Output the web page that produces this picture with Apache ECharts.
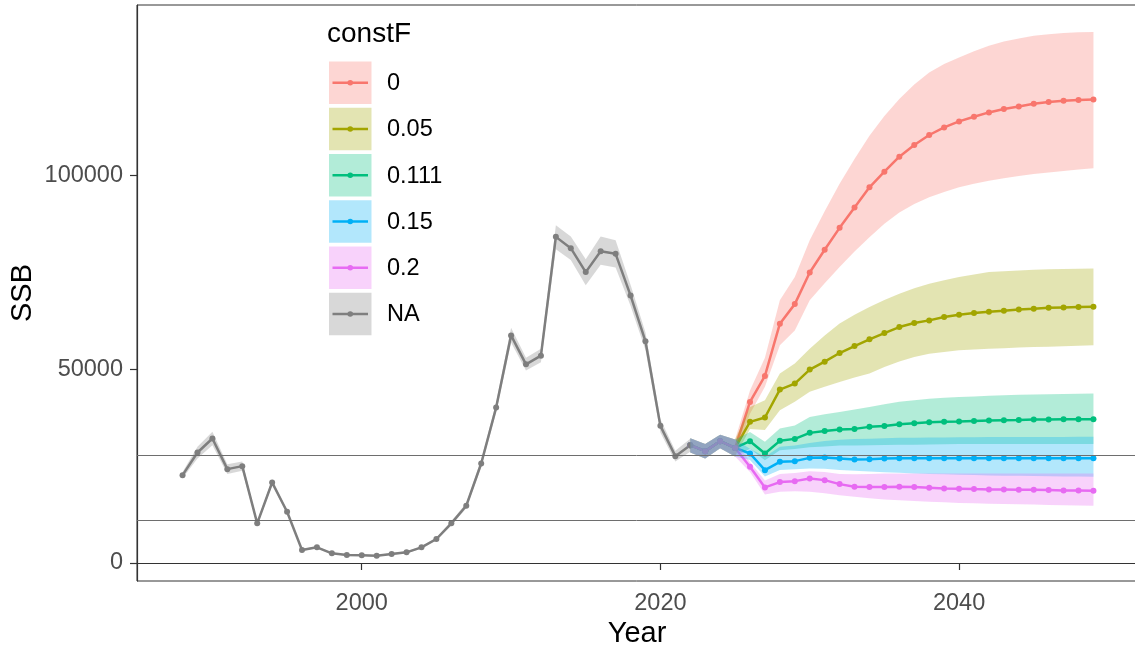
<!DOCTYPE html>
<html>
<head>
<meta charset="utf-8">
<script src="https://cdn.jsdelivr.net/npm/echarts@6/dist/echarts.min.js"></script>
<style>
  html, body { margin: 0; padding: 0; background: #ffffff; }
  #chart { width: 1135px; height: 651px; }
</style>
</head>
<body>
<div id="chart"></div>
<script>
// ---- Historical assessment (constF = NA) ----
const histYears = [1988, 1989, 1990, 1991, 1992, 1993, 1994, 1995, 1996, 1997, 1998, 1999, 2000, 2001, 2002, 2003, 2004, 2005, 2006, 2007, 2008, 2009, 2010, 2011, 2012, 2013, 2014, 2015, 2016, 2017, 2018, 2019, 2020, 2021, 2022];
const histSSB = [22680, 28530, 32140, 24230, 25000, 10230, 20790, 13230, 3350, 4040, 2490, 2060, 1980, 1890, 2320, 2750, 4040, 6190, 10230, 14780, 25690, 40120, 58760, 51290, 53520, 84190, 81270, 75090, 80500, 79810, 69070, 57220, 35400, 27580, 30410];
const histLow = [21900, 27000, 30400, 23000, 23800, 9700, 20000, 12700, 3100, 3800, 2300, 1900, 1800, 1700, 2100, 2500, 3750, 5800, 9700, 14100, 24700, 38900, 56900, 49700, 51800, 81000, 78200, 71700, 77000, 76300, 66400, 55000, 33700, 26200, 28700];
const histHigh = [23500, 30000, 33900, 25500, 26200, 10800, 21600, 13800, 3600, 4300, 2700, 2250, 2150, 2080, 2550, 3000, 4350, 6600, 10800, 15500, 26700, 41400, 60700, 53000, 55300, 87200, 84300, 78400, 84300, 83300, 71800, 59500, 37100, 29000, 32100];

// ---- Projections under constant F ----
const projYears = [2022, 2023, 2024, 2025, 2026, 2027, 2028, 2029, 2030, 2031, 2032, 2033, 2034, 2035, 2036, 2037, 2038, 2039, 2040, 2041, 2042, 2043, 2044, 2045, 2046, 2047, 2048, 2049];

const ssbF0 = [30410, 28870, 31440, 29700, 41570, 48300, 61780, 66830, 75000, 80850, 86520, 91750, 96980, 101030, 104900, 107910, 110490, 112450, 114000, 115210, 116320, 117190, 117860, 118560, 118990, 119330, 119510, 119670];
const lowF0 = [28500, 27000, 29600, 27500, 38500, 45500, 56200, 60000, 67800, 72200, 76400, 80400, 84100, 87600, 90500, 92700, 94400, 95800, 97000, 97900, 98700, 99300, 99900, 100400, 100800, 101200, 101600, 101900];
const highF0 = [32200, 30700, 33100, 31900, 44500, 53000, 67800, 73800, 83300, 90800, 97900, 104300, 110300, 115400, 119800, 123500, 126600, 128800, 130500, 132100, 133500, 134600, 135400, 136100, 136500, 136800, 137000, 137100];

const ssbF005 = [30410, 28870, 31440, 29700, 36430, 37550, 44770, 46310, 49920, 51970, 54200, 56010, 57730, 59360, 60910, 61940, 62630, 63480, 64100, 64520, 64870, 65120, 65460, 65640, 65900, 65980, 66060, 66150];
const lowF005 = [28500, 27000, 29600, 27500, 34600, 34300, 39400, 41600, 44200, 45500, 46700, 47900, 48900, 50600, 52000, 53200, 54000, 54500, 54900, 55100, 55300, 55450, 55600, 55750, 55850, 55950, 56100, 56200];
const highF005 = [32200, 30700, 33100, 31900, 40300, 42000, 48900, 51500, 55300, 58700, 61800, 64100, 66100, 67900, 69500, 70900, 72100, 73000, 73800, 74500, 75100, 75300, 75500, 75700, 75800, 75900, 75950, 76000];

const ssbF0111 = [30410, 28870, 31440, 29700, 31440, 28270, 31530, 32040, 33590, 34100, 34450, 34620, 35140, 35390, 35820, 36080, 36340, 36430, 36510, 36680, 36770, 36860, 36940, 37030, 37030, 37110, 37110, 37110];
const lowF0111 = [28500, 27000, 29600, 27500, 29500, 26500, 29100, 29400, 29900, 30100, 30300, 30350, 30400, 30450, 30500, 30550, 30600, 30650, 30700, 30700, 30700, 30700, 30700, 30700, 30700, 30700, 30700, 30700];
const highF0111 = [32200, 30700, 33100, 31900, 33800, 31300, 34700, 35500, 37700, 38400, 39000, 39600, 40300, 41000, 41600, 42000, 42400, 42650, 42850, 43000, 43150, 43300, 43400, 43500, 43550, 43600, 43700, 43750];

const ssbF015 = [30410, 28870, 31440, 29700, 28270, 23970, 26110, 26290, 27140, 27230, 26980, 26720, 26800, 26980, 27060, 27060, 27060, 27060, 27060, 27060, 27060, 27060, 27060, 27060, 27060, 27060, 27060, 27060];
const lowF015 = [28500, 27000, 29600, 27500, 26600, 22300, 24000, 24200, 24400, 24300, 24000, 23800, 23600, 23400, 23300, 23100, 23000, 22900, 22800, 22700, 22600, 22550, 22500, 22450, 22400, 22350, 22300, 22250];
const highF015 = [32200, 30700, 33100, 31900, 29500, 27400, 30000, 30300, 31000, 31500, 31800, 32000, 32100, 32200, 32300, 32350, 32400, 32400, 32450, 32450, 32500, 32500, 32500, 32550, 32550, 32550, 32600, 32600];

const ssbF02 = [30410, 28870, 31440, 29700, 24820, 19510, 20880, 21130, 21820, 21390, 20360, 19670, 19590, 19590, 19670, 19590, 19420, 19240, 19160, 19070, 18990, 18990, 18900, 18900, 18820, 18730, 18730, 18640];
const lowF02 = [28500, 27000, 29600, 27500, 23500, 17700, 18400, 18500, 18400, 18000, 17500, 17100, 16700, 16400, 16200, 16000, 15800, 15650, 15500, 15400, 15300, 15200, 15150, 15100, 15000, 14900, 14850, 14800];
const highF02 = [32200, 30700, 33100, 31900, 26000, 21300, 23000, 23200, 23700, 23500, 23000, 22900, 23000, 23100, 23100, 23100, 23100, 23100, 23100, 23100, 23100, 23100, 23100, 23100, 23100, 23100, 23100, 23100];

// Reference points drawn as horizontal lines
const refLines = [27900, 11100];

// Axis ticks and legend entries
const yTicks = [0, 50000, 100000];
const xTicks = [2000, 2020, 2040];
const legendLabels = ['0', '0.05', '0.111', '0.15', '0.2', 'NA'];
const legendColors = ['#F8766D', '#A3A500', '#00BF7D', '#00B0F6', '#E76BF3', '#7F7F7F'];

const FONT = '"Liberation Sans", Arial, Helvetica, sans-serif';

function rgba(hex, a) {
  const n = parseInt(hex.slice(1), 16);
  return 'rgba(' + ((n >> 16) & 255) + ',' + ((n >> 8) & 255) + ',' + (n & 255) + ',' + a + ')';
}

function lineSeries(name, years, vals, color) {
  return {
    name: name, type: 'line', z: 2, silent: true,
    data: years.map((y, i) => [y, vals[i]]),
    symbol: 'circle', symbolSize: 6, showSymbol: true,
    lineStyle: { color: color, width: 2.5 },
    itemStyle: { color: color },
    animation: false
  };
}

// Confidence ribbon as one polygon through the axis scales
function bandSeries(name, years, low, high, color) {
  return {
    name: name + ' band', type: 'custom', z: 3, silent: true, clip: true,
    data: [[years[0], low[0]]],
    encode: { x: 0, y: 1 },
    renderItem: function (params, api) {
      const pts = [];
      for (let i = 0; i < years.length; i++) pts.push(api.coord([years[i], high[i]]));
      for (let i = years.length - 1; i >= 0; i--) pts.push(api.coord([years[i], low[i]]));
      return { type: 'polygon', shape: { points: pts }, style: { fill: rgba(color, 0.3) } };
    },
    animation: false
  };
}

const chart = echarts.init(document.getElementById('chart'), null, { renderer: 'canvas' });

const series = [
  lineSeries('0', projYears, ssbF0, legendColors[0]),
  lineSeries('0.05', projYears, ssbF005, legendColors[1]),
  lineSeries('0.111', projYears, ssbF0111, legendColors[2]),
  lineSeries('0.15', projYears, ssbF015, legendColors[3]),
  lineSeries('0.2', projYears, ssbF02, legendColors[4]),
  lineSeries('NA', histYears, histSSB, legendColors[5]),
  bandSeries('0', projYears, lowF0, highF0, legendColors[0]),
  bandSeries('0.05', projYears, lowF005, highF005, legendColors[1]),
  bandSeries('0.111', projYears, lowF0111, highF0111, legendColors[2]),
  bandSeries('0.15', projYears, lowF015, highF015, legendColors[3]),
  bandSeries('0.2', projYears, lowF02, highF02, legendColors[4]),
  bandSeries('NA', histYears, histLow, histHigh, legendColors[5]),
  {
    name: 'reference', type: 'line', z: 4, data: [], silent: true, animation: false,
    markLine: {
      silent: true, symbol: ['none', 'none'], label: { show: false },
      lineStyle: { color: '#6e6e6e', width: 1, type: 'solid' },
      animation: false,
      data: refLines.map(v => ({ yAxis: v }))
    }
  }
];

// Legend drawn as keys with ribbon fill, line and dot
const graphics = [];
const keyX = 329, keyW = 42.5, keyTop = 61.5, keyPitch = 46.25;
graphics.push({
  type: 'text', x: 327, y: 34,
  style: { text: 'constF', font: '28px ' + FONT, fill: '#000000', textAlign: 'left', textVerticalAlign: 'middle' }
});
legendLabels.forEach((lab, i) => {
  const top = keyTop + i * keyPitch;
  const cy = top + keyW / 2;
  const c = legendColors[i];
  graphics.push({ type: 'rect', shape: { x: keyX, y: top, width: keyW, height: keyW }, style: { fill: rgba(c, 0.3) } });
  graphics.push({ type: 'line', shape: { x1: keyX + 3.5, y1: cy, x2: keyX + keyW - 3.5, y2: cy }, style: { stroke: c, lineWidth: 2.4 } });
  graphics.push({ type: 'circle', shape: { cx: keyX + keyW / 2, cy: cy, r: 2.8 }, style: { fill: c } });
  graphics.push({
    type: 'text', x: 387, y: cy + 1,
    style: { text: lab, font: '23.5px ' + FONT, fill: '#000000', textAlign: 'left', textVerticalAlign: 'middle' }
  });
});

// Axis titles
graphics.push({
  type: 'text', x: 637, y: 634,
  style: { text: 'Year', font: '29px ' + FONT, fill: '#000000', textAlign: 'center', textVerticalAlign: 'middle' }
});
graphics.push({
  type: 'text', x: 22.5, y: 293, rotation: Math.PI / 2,
  style: { text: 'SSB', font: '29px ' + FONT, fill: '#000000', textAlign: 'center', textVerticalAlign: 'middle' }
});

const plainNumber = v => String(v);

chart.setOption({
  backgroundColor: '#ffffff',
  animation: false,
  grid: {
    left: 137, top: 5, width: 1002, height: 576,
    outerBoundsMode: 'none', containLabel: false,
    show: true, borderColor: '#333333', borderWidth: 1, backgroundColor: 'transparent'
  },
  xAxis: {
    type: 'value', min: 1984.95, max: 2052.05,
    splitLine: { show: false },
    axisLine: { show: true, lineStyle: { color: '#333333', width: 1.2 } },
    axisTick: { show: true, length: 7, lineStyle: { color: '#333333', width: 1.2 }, customValues: xTicks },
    axisLabel: { customValues: xTicks, formatter: plainNumber, color: '#4D4D4D', fontSize: 23.5, fontFamily: FONT, margin: 11 }
  },
  yAxis: {
    type: 'value', min: -4650, max: 144050,
    splitLine: { show: false },
    axisLine: { show: true, onZero: false, lineStyle: { color: '#333333', width: 1.2 } },
    axisTick: { show: true, length: 7, lineStyle: { color: '#333333', width: 1.2 }, customValues: yTicks },
    axisLabel: { customValues: yTicks, formatter: plainNumber, color: '#4D4D4D', fontSize: 23.5, fontFamily: FONT, margin: 14 }
  },
  graphic: graphics,
  series: series
});
</script>
</body>
</html>
